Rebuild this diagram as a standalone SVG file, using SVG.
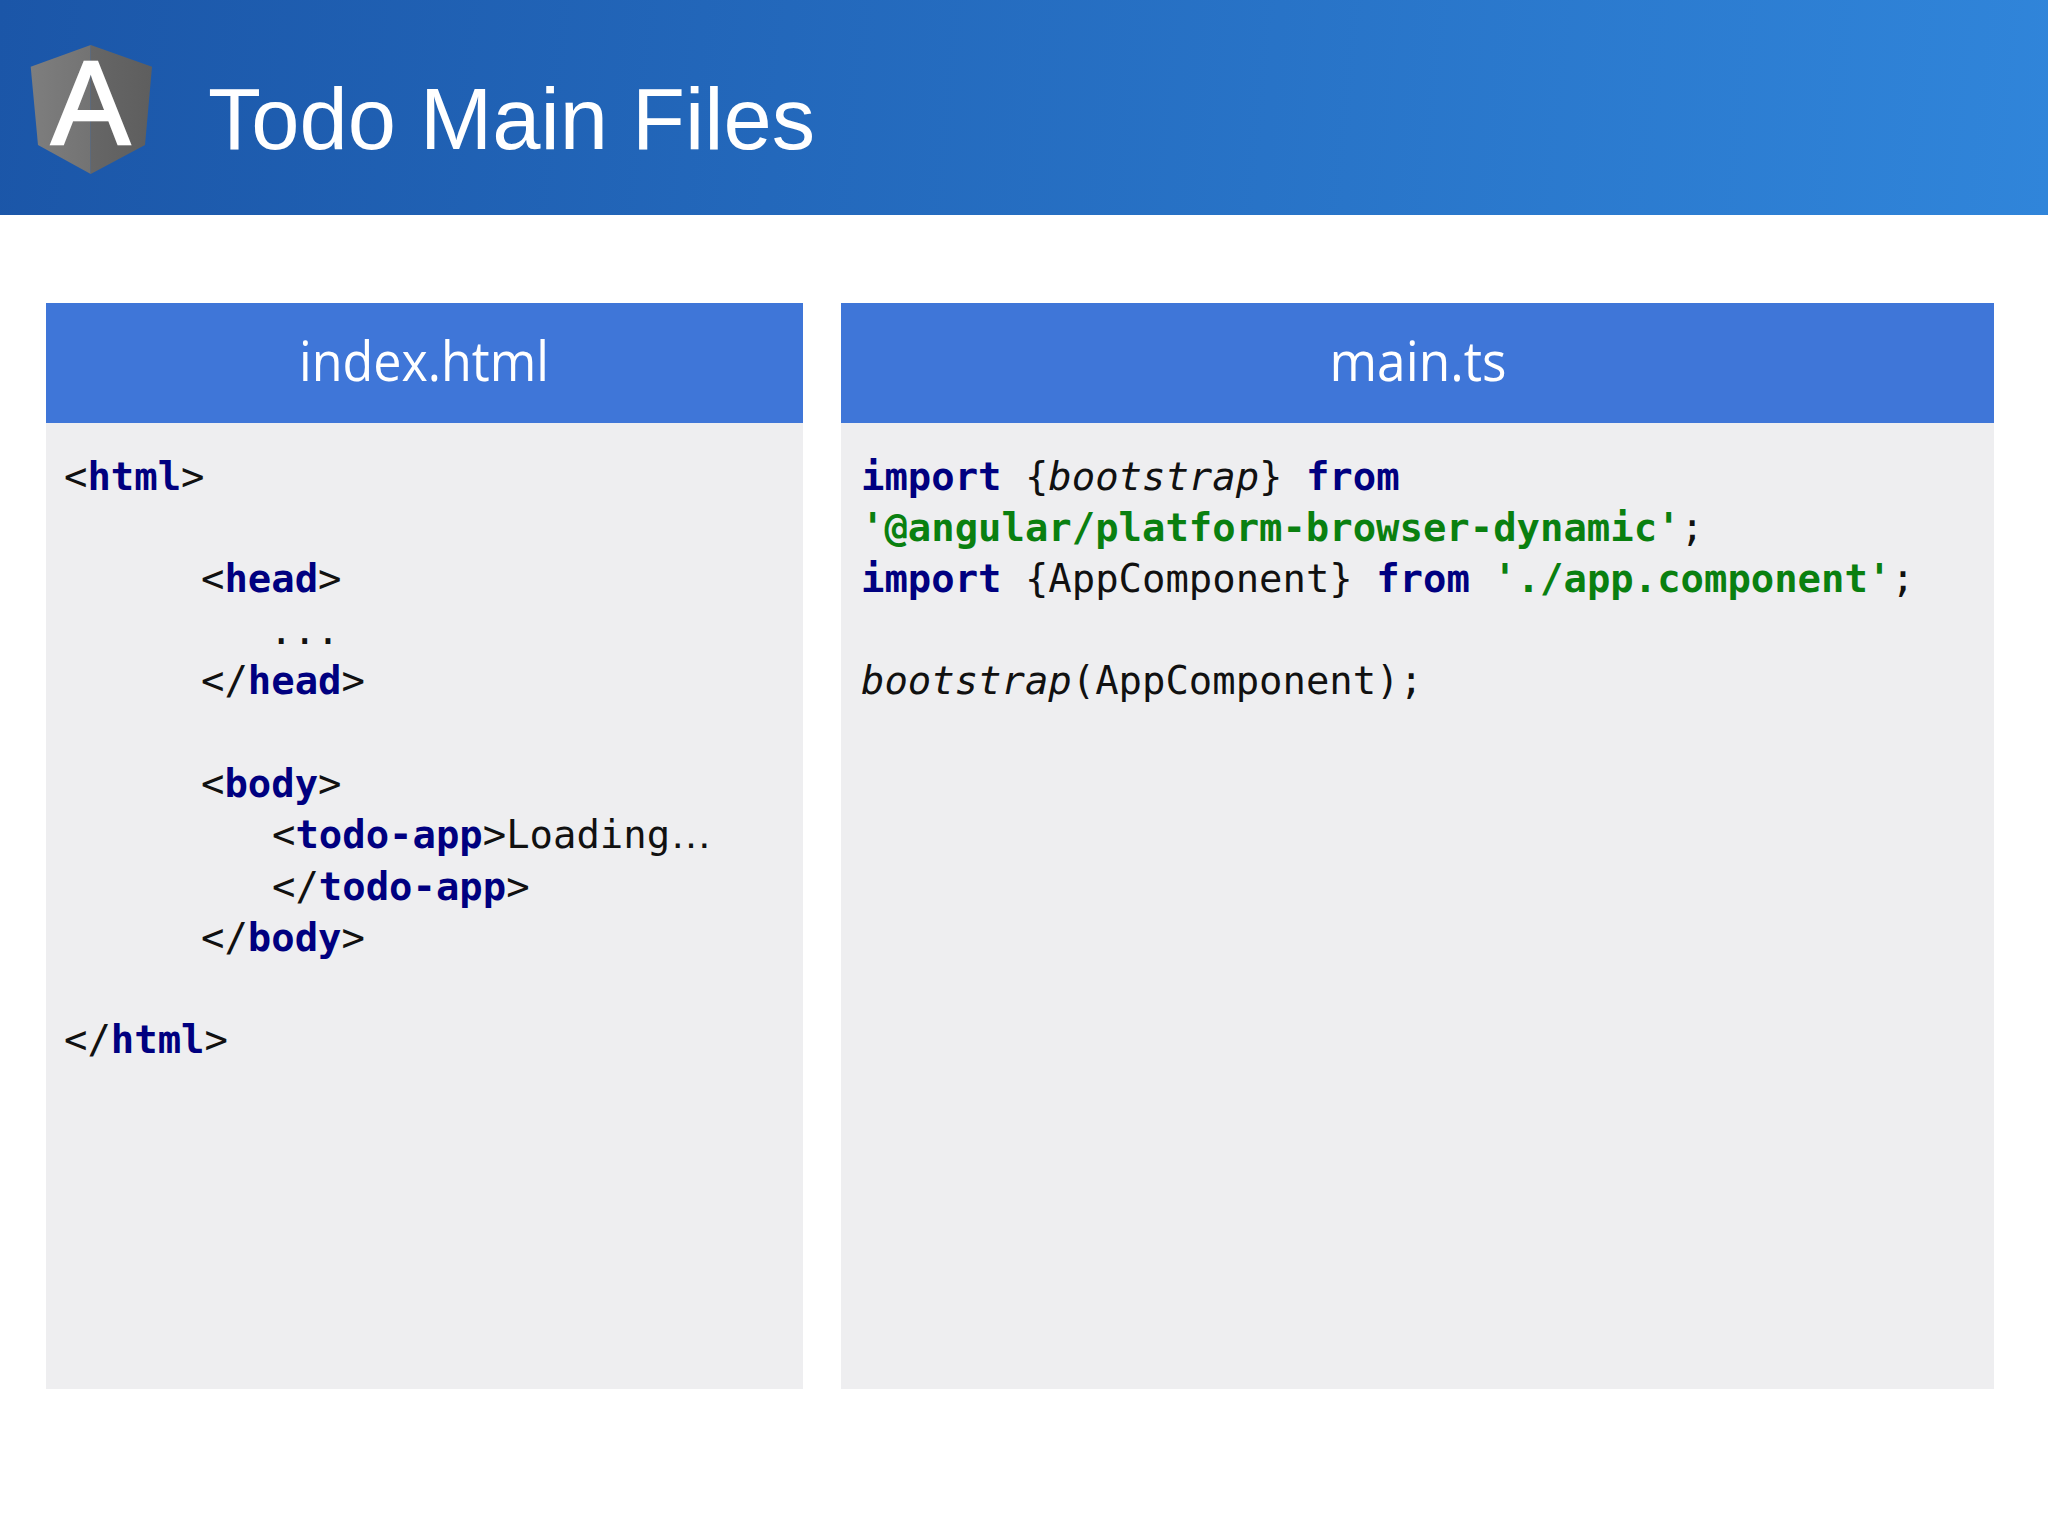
<svg xmlns="http://www.w3.org/2000/svg" width="2048" height="1536" viewBox="0 0 2048 1536">
<style>
.bar{fill:#3f76d8}
.body{fill:#eeeef0}
.hd{font-family:"Open Sans","Noto Sans",sans-serif;font-size:54px;fill:#fff;text-anchor:middle}
.code{font-family:"DejaVu Sans Mono","Liberation Mono",monospace;font-size:38.9px;fill:#111;white-space:pre}
.k{fill:#000080;font-weight:700}
.s{fill:#0a8010;font-weight:700}
.i{font-style:italic}
</style>
<defs>
<linearGradient id="hg" gradientUnits="userSpaceOnUse" x1="0" y1="0" x2="2048" y2="215"><stop offset="0" stop-color="#1b56a8"/><stop offset="1" stop-color="#3085da"/></linearGradient>
<linearGradient id="sl" x1="0" y1="0" x2="1" y2="0"><stop offset="0" stop-color="#7e7e7e"/><stop offset="1" stop-color="#737373"/></linearGradient>
<linearGradient id="sr" x1="0" y1="0" x2="1" y2="0"><stop offset="0" stop-color="#666"/><stop offset="1" stop-color="#5e5e5e"/></linearGradient>
</defs>
<rect width="2048" height="1536" fill="#fff"/>
<g id="header">
<rect width="2048" height="215" fill="url(#hg)"/>
<polygon points="90.7,45 30.7,66.7 38,145 90.7,174" fill="url(#sl)"/>
<polygon points="90.7,45 152,66.7 145,145 90.7,174" fill="url(#sr)"/>
<text x="90.7" y="144" font-family="Liberation Sans" font-size="118" fill="#fff" stroke="#fff" stroke-width="2.5" text-anchor="middle">A</text>
<text x="208" y="149" font-family="Liberation Sans" font-size="86.7" fill="#fff">Todo Main Files</text>
</g>
<g id="index-html">
<rect class="body" x="46" y="303" width="757" height="1086"/>
<rect class="bar" x="46" y="303" width="757" height="120"/>
<text class="hd" x="424" y="381" textLength="250" lengthAdjust="spacingAndGlyphs">index.html</text>
<text class="code" x="64" y="489.5">&lt;<tspan class="k">html</tspan>&gt;</text>
<text class="code" x="201" y="591.6">&lt;<tspan class="k">head</tspan>&gt;</text>
<text class="code" x="269.5" y="643.5">...</text>
<text class="code" x="201" y="694">&lt;/<tspan class="k">head</tspan>&gt;</text>
<text class="code" x="201" y="796.5">&lt;<tspan class="k">body</tspan>&gt;</text>
<text class="code" x="272" y="848">&lt;<tspan class="k">todo-app</tspan>&gt;Loading<tspan font-family="Liberation Sans" font-size="42">…</tspan></text>
<text class="code" x="272" y="899.5">&lt;/<tspan class="k">todo-app</tspan>&gt;</text>
<text class="code" x="201" y="950.5">&lt;/<tspan class="k">body</tspan>&gt;</text>
<text class="code" x="64" y="1053">&lt;/<tspan class="k">html</tspan>&gt;</text>
</g>
<g id="main-ts">
<rect class="body" x="841" y="303" width="1153" height="1086"/>
<rect class="bar" x="841" y="303" width="1153" height="120"/>
<text class="hd" x="1418" y="381" textLength="177" lengthAdjust="spacingAndGlyphs">main.ts</text>
<text class="code" x="861" y="489.5"><tspan class="k">import</tspan> {<tspan class="i">bootstrap</tspan>} <tspan class="k">from</tspan></text>
<text class="code" x="861" y="541"><tspan class="s">'@angular/platform-browser-dynamic'</tspan>;</text>
<text class="code" x="861" y="591.6"><tspan class="k">import</tspan> {AppComponent} <tspan class="k">from</tspan> <tspan class="s">'./app.component'</tspan>;</text>
<text class="code" x="861" y="694"><tspan class="i">bootstrap</tspan>(AppComponent);</text>
</g>
</svg>
